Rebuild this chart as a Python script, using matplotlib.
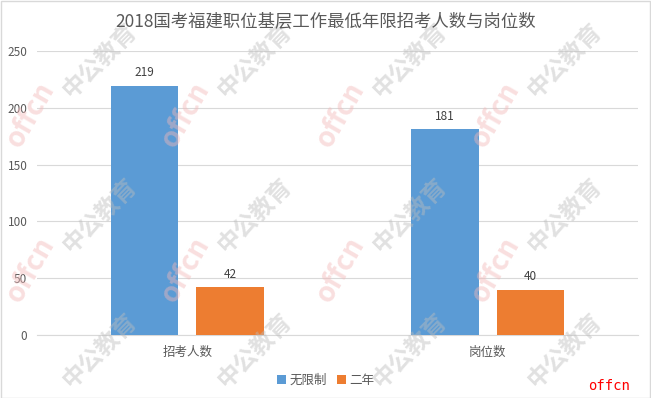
import matplotlib.pyplot as plt
import numpy as np

plt.rcParams['font.family'] = ['Noto Sans CJK SC', 'DejaVu Sans']

categories = ['招考人数', '岗位数']
series_names = ['无限制', '二年']
no_limit = [219, 181]
two_years = [42, 40]
colors = ['#5B9BD5', '#ED7D31']
text_color = '#595959'

W, H = 651, 398
fig = plt.figure(figsize=(W / 100, H / 100), dpi=100)
ax = fig.add_axes([0.057, 0.158, 0.923, 0.714])

# watermark tiles (pixel grid, 155 px apart)
for px in [30, 185, 340, 495]:
    for py in [115, 270]:
        fig.text(px / W, 1 - py / H, 'offcn', color='#F2B8B8', fontsize=20, fontweight='bold',
                 rotation=60, alpha=0.45, ha='center', va='center', zorder=0)
    for py in [60, 215, 350]:
        fig.text((px + 70) / W, 1 - py / H, '中公教育', color='#BDBDBD', fontsize=17,
                 fontweight='bold', rotation=45, alpha=0.45, ha='center', va='center', zorder=0)

x = np.arange(len(categories))
w = 0.225
off = 0.142
b1 = ax.bar(x - off, no_limit, w, color=colors[0], label=series_names[0], zorder=3)
b2 = ax.bar(x + off, two_years, w, color=colors[1], label=series_names[1], zorder=3)
for bars in (b1, b2):
    for b in bars:
        ax.text(b.get_x() + b.get_width() / 2, b.get_height() + 6, str(int(b.get_height())),
                ha='center', va='bottom', fontsize=8.5, color='#404040', zorder=4)

ax.set_xlim(-0.5, 1.5)
ax.set_ylim(0, 250)
ax.set_yticks(range(0, 251, 50))
ax.set_xticks(x)
ax.set_xticklabels(categories, fontsize=9, color=text_color)
ax.tick_params(axis='y', labelsize=8.5, labelcolor=text_color, length=0, pad=7)
ax.tick_params(axis='x', length=0, pad=8)
ax.grid(axis='y', color='#D9D9D9', linewidth=0.8, zorder=0)
ax.set_axisbelow(True)
for s in ['top', 'right', 'left']:
    ax.spines[s].set_visible(False)
ax.spines['bottom'].set_color('#D9D9D9')
ax.patch.set_alpha(0)

fig.suptitle('2018国考福建职位基层工作最低年限招考人数与岗位数', y=0.97,
             fontsize=12.5, color=text_color)

leg = fig.legend(loc='lower center', bbox_to_anchor=(0.5, 0.0), ncol=2, frameon=False,
                 fontsize=9, handlelength=0.7, handleheight=0.7, handletextpad=0.3,
                 columnspacing=0.8)
for t in leg.get_texts():
    t.set_color(text_color)

fig.text(0.935, 0.03, 'offcn', color='#FF0000', fontsize=10, ha='center', va='center',
         family='DejaVu Sans Mono')

fig.patches.append(plt.Rectangle((0.001, 0.001), 0.997, 0.997, transform=fig.transFigure,
                                 fill=False, edgecolor='#D9D9D9', linewidth=1))

fig.savefig('out.png', dpi=100)
